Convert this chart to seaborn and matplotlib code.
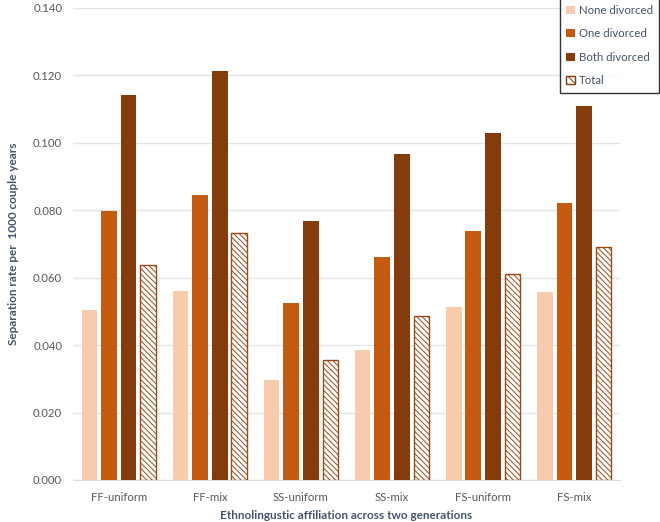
import pandas as pd
import numpy as np
import seaborn as sns
import matplotlib.pyplot as plt
from matplotlib.patches import Patch

# values
groups = ['FF-uniform', 'FF-mix', 'SS-uniform', 'SS-mix', 'FS-uniform', 'FS-mix']
series = ['None divorced', 'One divorced', 'Both divorced', 'Total']
none_divorced = [0.0505, 0.0561, 0.0295, 0.0385, 0.0513, 0.0558]
one_divorced = [0.0798, 0.0846, 0.0525, 0.0661, 0.0739, 0.0820]
both_divorced = [0.1141, 0.1214, 0.0768, 0.0967, 0.1029, 0.1110]
total = [0.0638, 0.0731, 0.0355, 0.0487, 0.0612, 0.0690]

colors = ['#F8CBAD', '#C55A11', '#843C0C', '#FFFFFF']
text_col = '#44546A'
tick_col = '#595959'

df = pd.DataFrame({
    'group': groups * 4,
    'series': np.repeat(series, len(groups)),
    'rate': none_divorced + one_divorced + both_divorced + total,
})

sns.set_style('white')
plt.rcParams['font.family'] = ['Lato', 'DejaVu Sans']
plt.rcParams['hatch.linewidth'] = 0.7

fig = plt.figure(figsize=(6.6, 5.22), dpi=100)
ax = fig.add_axes([0.111, 0.0805, 0.828, 0.9045])

sns.barplot(data=df, x='group', y='rate', hue='series', order=groups,
            hue_order=series, palette=colors, width=0.86, gap=0.2,
            saturation=1, legend=False, ax=ax, zorder=3)

# make the Total bars hatched
n = len(groups)
for i, bar in enumerate(ax.patches):
    k = i // n
    if k == 3:
        bar.set_facecolor('white')
        bar.set_edgecolor('#9C4A17')
        bar.set_hatch('\\' * 6)
        bar.set_linewidth(1.0)
    else:
        bar.set_edgecolor('none')

ax.set_ylim(0, 0.140)
ax.set_xlim(-0.5, 5.5)
ax.set_yticks(np.arange(0, 0.141, 0.02))
ax.set_yticklabels([f'{v:.3f}' for v in np.arange(0, 0.141, 0.02)])
ax.yaxis.grid(True, color='#E1E4EA', linewidth=1, zorder=0)
ax.set_axisbelow(True)
for s in ['top', 'right', 'left']:
    ax.spines[s].set_visible(False)
ax.spines['bottom'].set_color('#D9DDE3')
ax.tick_params(axis='both', length=0, labelsize=8.2, labelcolor=tick_col)
ax.tick_params(axis='x', pad=9)
ax.tick_params(axis='y', pad=8)

ax.set_xlabel('Ethnolingustic affiliation across two generations', fontsize=8.5,
              fontweight='bold', color=text_col, labelpad=5)
ax.set_ylabel('Separation rate per  1000 couple years', fontsize=8.5,
              fontweight='bold', color=text_col, labelpad=10)

handles = [Patch(facecolor=colors[0], edgecolor='none'),
           Patch(facecolor=colors[1], edgecolor='none'),
           Patch(facecolor=colors[2], edgecolor='none'),
           Patch(facecolor='white', edgecolor='#843C0C', hatch='\\' * 4)]
leg = fig.legend(handles, series, loc='upper right', bbox_to_anchor=(0.9985, 1.003),
                 fontsize=8.2, frameon=True, fancybox=False, edgecolor='black',
                 handlelength=0.75, handleheight=0.75, handletextpad=0.35,
                 labelspacing=1.1, borderpad=0.55, borderaxespad=0)
leg.get_frame().set_linewidth(1)
for t in leg.get_texts():
    t.set_color(text_col)

fig.savefig('out.png', dpi=100)
